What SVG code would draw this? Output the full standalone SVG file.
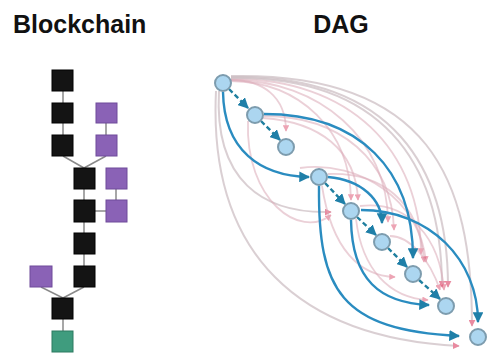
<svg xmlns="http://www.w3.org/2000/svg" width="490" height="358" viewBox="0 0 490 358">
<style>
.title{font-family:"Liberation Sans",Arial,sans-serif;font-weight:bold;font-size:25px;fill:#111}
.blk{fill:#141414;stroke:#000;stroke-width:1}
.pur{fill:#8a62b6;stroke:#6f4b9a;stroke-width:1}
.grn{fill:#3f9c7e;stroke:#2d7a60;stroke-width:1}
.bl{stroke:#8a8a8a;stroke-width:1.5;fill:none}
.node{fill:#acd6f0;stroke:#7d9cae;stroke-width:2}
.blue{fill:none;stroke:#2a8cc0;stroke-width:2.4;marker-end:url(#ab)}
.short{fill:none;stroke:#1f7f9f;stroke-width:2.4;stroke-dasharray:5 3;marker-end:url(#ab)}
.pink{fill:none;stroke:#dcaab8;stroke-width:1.8;opacity:0.55;marker-end:url(#ap)}
.gray{fill:none;stroke:#cbbcc1;stroke-width:2;opacity:0.7;marker-end:url(#ap)}
</style>
<defs>
<marker id="ab" viewBox="0 0 10 10" refX="9" refY="5" markerWidth="4.5" markerHeight="4.5" orient="auto" markerUnits="strokeWidth">
<path d="M0,0 L10,5 L0,10 Z" fill="#1f7fa8"/>
</marker>
<marker id="ap" viewBox="0 0 10 10" refX="9" refY="5" markerWidth="3.5" markerHeight="3.5" orient="auto" markerUnits="strokeWidth">
<path d="M0,0 L10,5 L0,10 Z" fill="#e05a78"/>
</marker>
</defs>
<rect width="490" height="358" fill="#fff"/>
<text class="title" x="13" y="33">Blockchain</text>
<text class="title" x="341" y="33" text-anchor="middle">DAG</text>

<g id="blockchain-links">
<line class="bl" x1="63" y1="91" x2="63" y2="103"/>
<line class="bl" x1="63" y1="123" x2="63" y2="135"/>
<line class="bl" x1="106" y1="123" x2="106" y2="135"/>
<line class="bl" x1="63" y1="156" x2="84" y2="168"/>
<line class="bl" x1="106" y1="156" x2="84" y2="168"/>
<line class="bl" x1="84" y1="189" x2="84" y2="200"/>
<line class="bl" x1="116" y1="189" x2="116" y2="200"/>
<line class="bl" x1="95" y1="211" x2="106" y2="211"/>
<line class="bl" x1="84" y1="222" x2="84" y2="233"/>
<line class="bl" x1="84" y1="254" x2="84" y2="266"/>
<line class="bl" x1="84" y1="287" x2="63" y2="298"/>
<line class="bl" x1="41" y1="287" x2="63" y2="298"/>
<line class="bl" x1="63" y1="319" x2="63" y2="331"/>
</g>
<g id="b1"><rect class="blk" x="52" y="70" width="21" height="21"/></g>
<g id="b2"><rect class="blk" x="52" y="103" width="21" height="20"/></g>
<g id="b3"><rect class="blk" x="52" y="135" width="21" height="21"/></g>
<g id="p1"><rect class="pur" x="96" y="103" width="21" height="20"/></g>
<g id="p2"><rect class="pur" x="96" y="135" width="21" height="21"/></g>
<g id="b4"><rect class="blk" x="74" y="168" width="21" height="21"/></g>
<g id="p3"><rect class="pur" x="106" y="168" width="21" height="21"/></g>
<g id="b5"><rect class="blk" x="74" y="200" width="21" height="22"/></g>
<g id="p4"><rect class="pur" x="106" y="200" width="21" height="22"/></g>
<g id="b6"><rect class="blk" x="74" y="233" width="21" height="21"/></g>
<g id="b7"><rect class="blk" x="74" y="266" width="21" height="21"/></g>
<g id="p5"><rect class="pur" x="30" y="266" width="22" height="21"/></g>
<g id="b8"><rect class="blk" x="52" y="298" width="21" height="21"/></g>
<g id="g1"><rect class="grn" x="52" y="331" width="21" height="21"/></g>

<g id="dag-connectors">
<path class="pink" d="M231,80 C 262,80 286,96 286,131"/>
<path class="pink" d="M231,81 C 300,82 350,130 351,200"/>
<path class="pink" d="M231,80 C 320,80 388,140 388,222"/>
<path class="pink" d="M231,79 C 350,78 421,150 421,254"/>
<path class="gray" d="M231,78 C 380,76 442,160 442,287"/>
<path class="gray" d="M231,77 C 395,74 448,170 448,287"/>
<path class="gray" d="M231,76 C 430,72 472,180 472,326"/>
<path class="pink" d="M263,118 C 320,122 356,150 358,200"/>
<path class="pink" d="M264,116 C 340,116 392,160 394,230"/>
<path class="gray" d="M219,91 C 214,180 262,214 331,212"/>
<path class="gray" d="M216,91 C 208,255 300,338 459,346"/>
<path class="pink" d="M248,121 C 245,200 300,240 331,215"/>
<path class="pink" d="M322,186 C 332,250 360,276 395,277"/>
<path class="pink" d="M328,174 C 380,172 420,200 424,262"/>
<path class="pink" d="M356,219 C 362,270 390,298 428,300"/>
<path class="pink" d="M360,206 C 410,200 440,240 444,290"/>
<path class="pink" d="M300,168 C 360,160 420,200 426,262"/>
<path class="pink" d="M390,236 C 410,236 430,260 440,290"/>
<path class="short" d="M229,89 L 248,108"/>
<path class="short" d="M261,121 L 280,140"/>
<path class="short" d="M325,183 L 345,204"/>
<path class="short" d="M357,217 L 376,235"/>
<path class="short" d="M388,248 L 407,267"/>
<path class="short" d="M419,280 L 440,299"/>
<path class="blue" d="M223,92 C 224,150 260,176 309,177"/>
<path class="blue" d="M264,114 C 360,114 413,170 413,258"/>
<path class="blue" d="M328,177 C 362,180 382,200 382,223"/>
<path class="blue" d="M319,186 C 318,290 340,330 459,336"/>
<path class="blue" d="M351,220 C 352,280 380,303 429,305"/>
<path class="blue" d="M361,210 C 430,210 478,260 478,322"/>
</g>

<g id="n1"><circle class="node" cx="223" cy="83" r="8"/></g>
<g id="n2"><circle class="node" cx="255" cy="115" r="8"/></g>
<g id="n3"><circle class="node" cx="286" cy="147" r="8"/></g>
<g id="n4"><circle class="node" cx="319" cy="177" r="8"/></g>
<g id="n5"><circle class="node" cx="351" cy="211" r="8"/></g>
<g id="n6"><circle class="node" cx="382" cy="242" r="8"/></g>
<g id="n7"><circle class="node" cx="413" cy="274" r="8"/></g>
<g id="n8"><circle class="node" cx="446" cy="306" r="8"/></g>
<g id="n9"><circle class="node" cx="478" cy="337" r="8"/></g>
</svg>
